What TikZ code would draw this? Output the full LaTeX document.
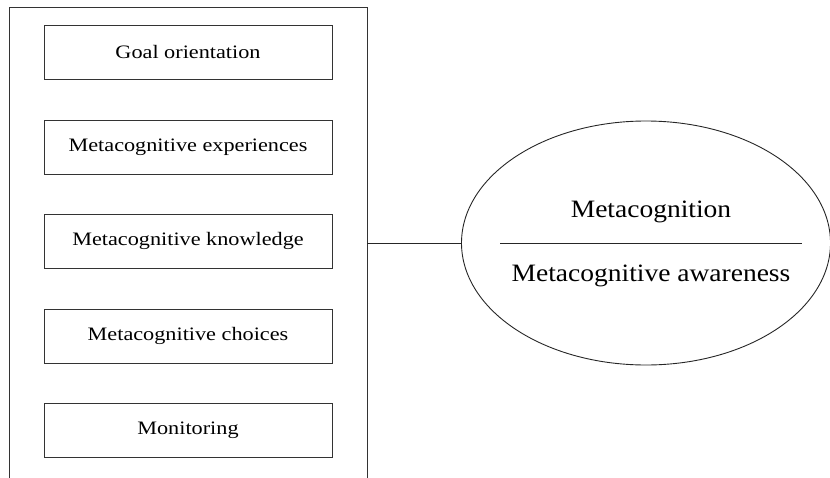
\documentclass[tikz,border=0pt]{standalone}
\usepackage{fontspec}
\setmainfont[FakeStretch=1.17]{Liberation Serif}
\usetikzlibrary{shapes.geometric}
\begin{document}
\begin{tikzpicture}[x=1pt,y=-1pt,
  line width=0.9pt, draw=black!85,
  itembox/.style={draw=black!80, minimum width=288pt, minimum height=54pt, inner sep=0pt, font=\fontsize{19}{22}\selectfont},
  bigtext/.style={anchor=base, inner sep=0pt, font=\fontsize{25}{28}\selectfont\addfontfeature{FakeStretch=1.1}}]
\useasboundingbox (0,0) rectangle (830,477);
% outer frame (open at the bottom)
\coordinate (fBL) at (9,478);
\coordinate (fTL) at (9,7);
\coordinate (fTR) at (367,7);
\coordinate (fBR) at (367,478);
\coordinate (frameR) at (367,243);
\draw[black!80] (fBL) -- (fTL) -- (fTR) -- (fBR);
% items
\node[itembox] (goal) at (188,52) {Goal orientation};
\node[itembox] (exp) at (188,147) {Metacognitive experiences};
\node[itembox] (know) at (188,241) {Metacognitive knowledge};
\node[itembox] (choice) at (188,336) {Metacognitive choices};
\node[itembox] (mon) at (188,430.5) {Monitoring};
% ellipse
\node[draw=black!85, ellipse, minimum width=369pt, minimum height=244pt, inner sep=0pt] (ell) at (646,243) {};
\coordinate (sepL) at (500,243);
\coordinate (sepR) at (802,243);
\draw[black!85] (sepL) -- (sepR);
\node[bigtext] (meta) at (651,217) {Metacognition};
\node[bigtext] (aware) at (651,281) {Metacognitive awareness};
% connector
\draw[black!85] (frameR) -- (ell.west);
\end{tikzpicture}
\end{document}
